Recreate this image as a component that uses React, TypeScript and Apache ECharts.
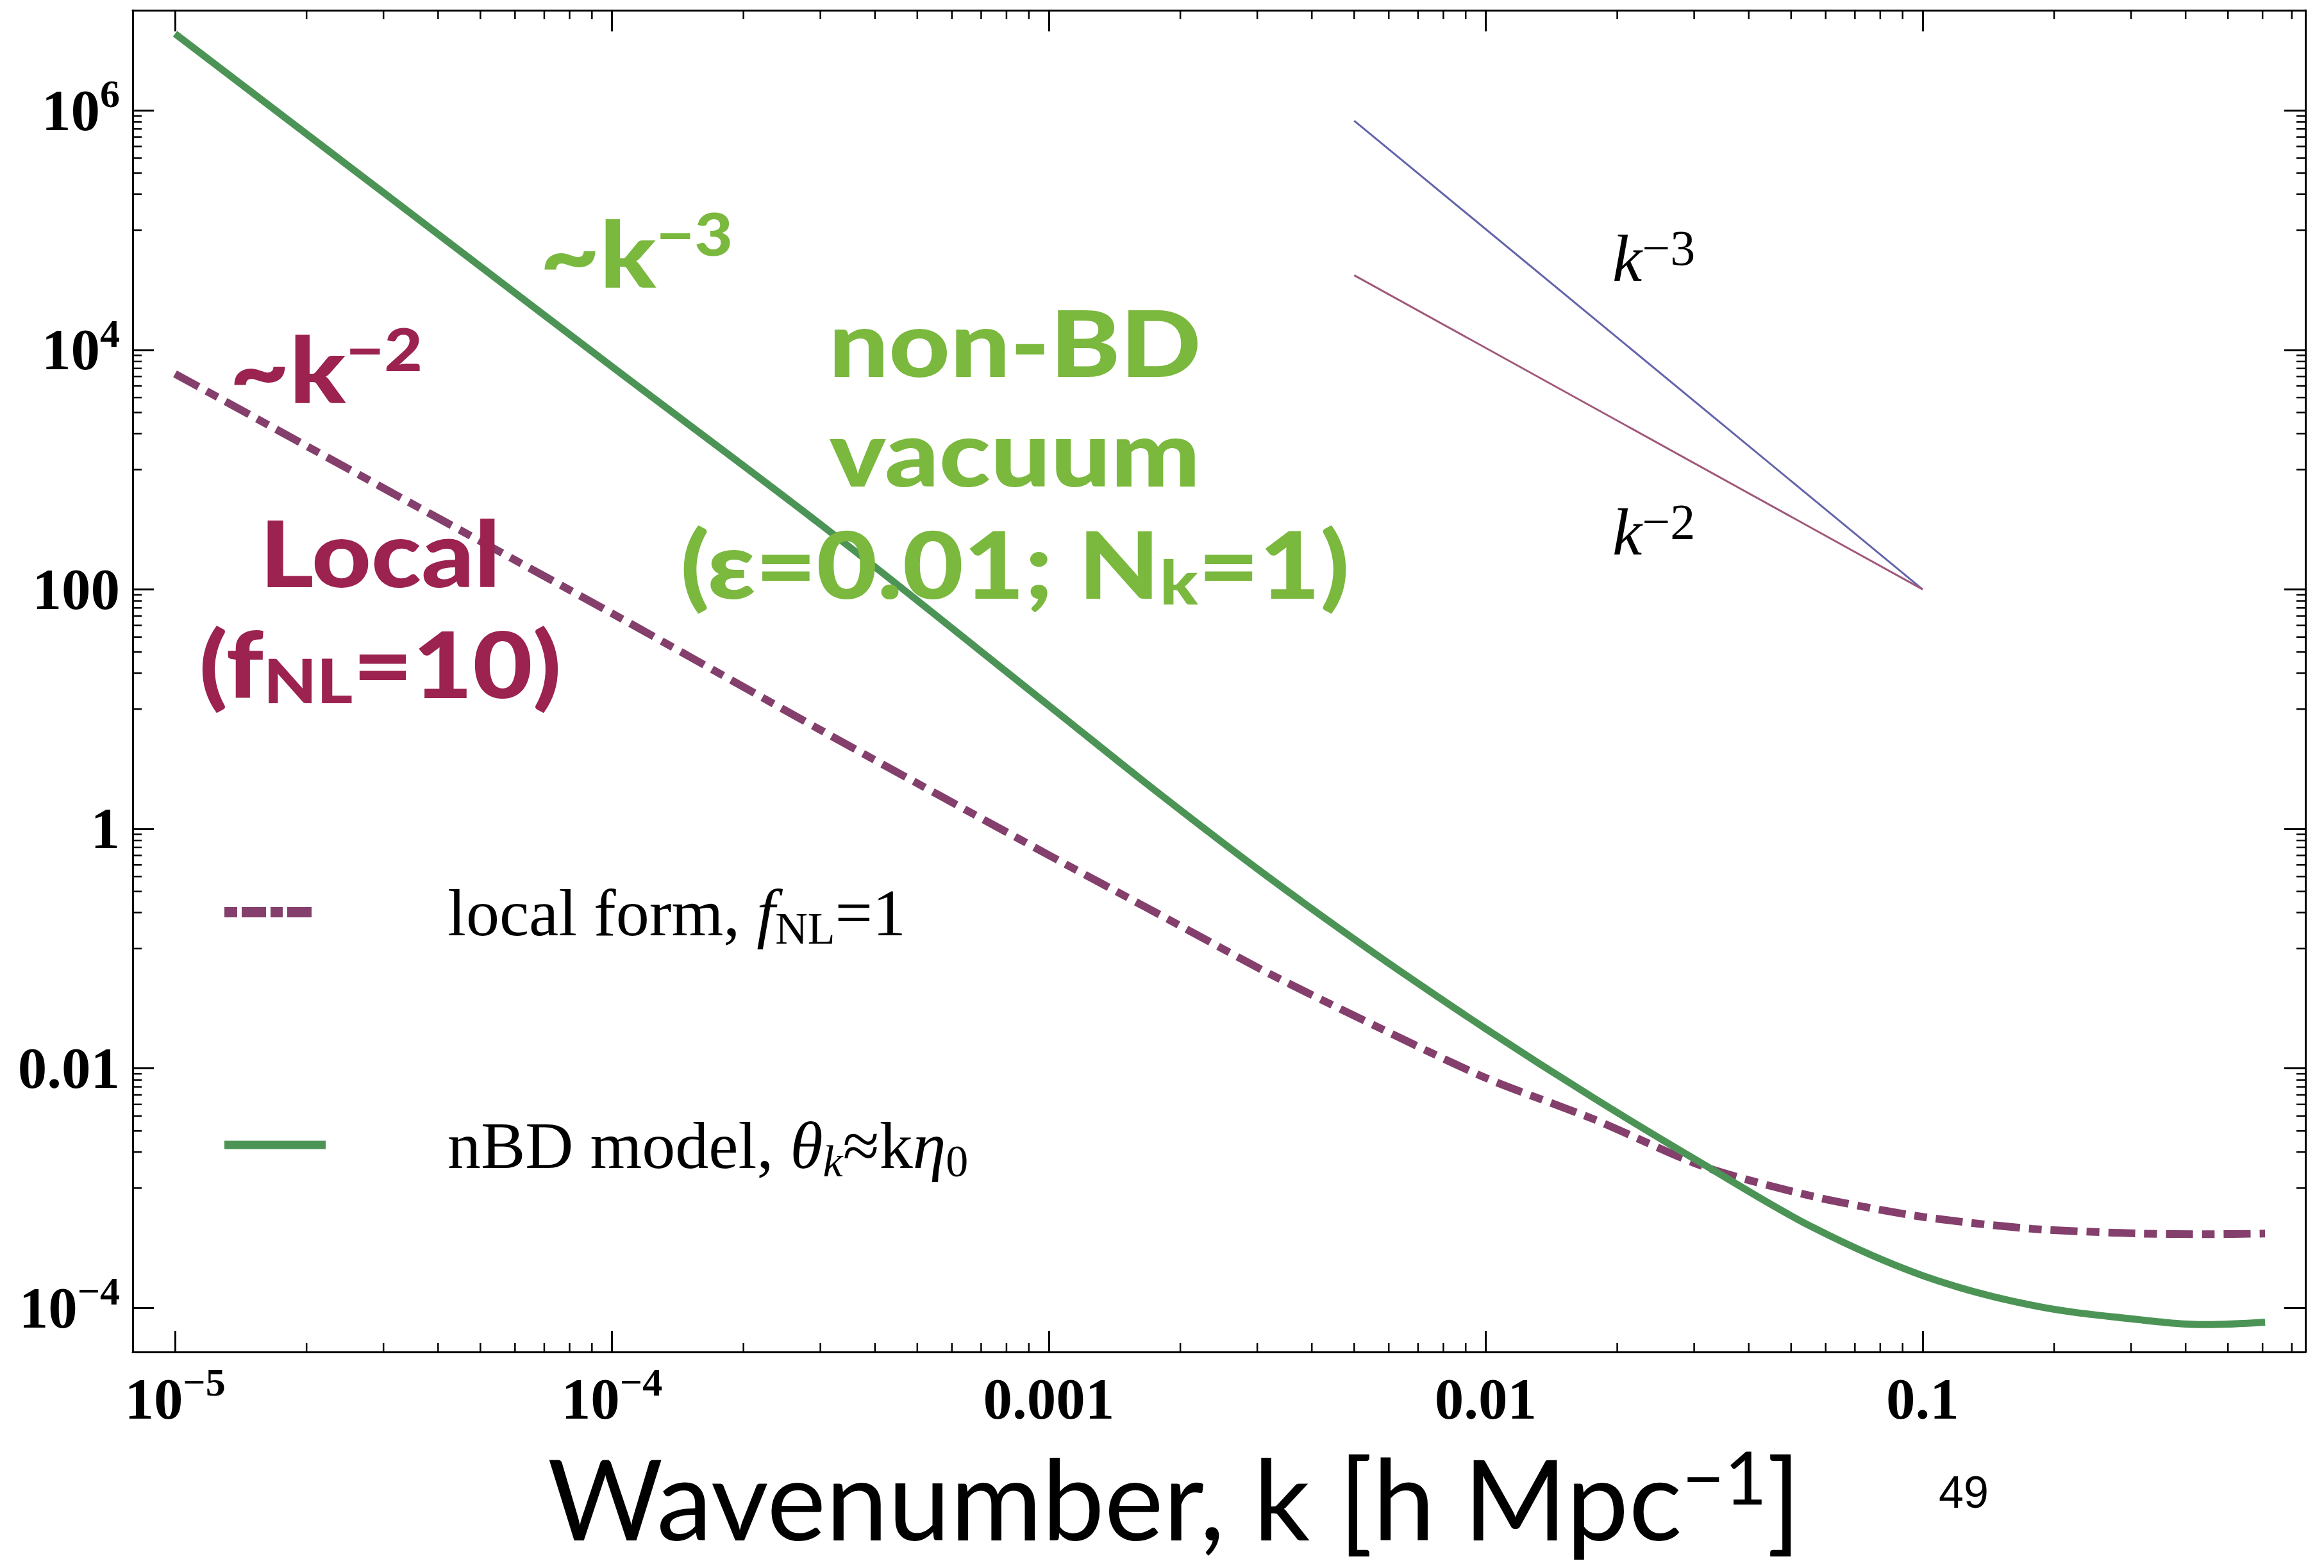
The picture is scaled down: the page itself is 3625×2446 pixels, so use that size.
import React, { useEffect, useRef } from "react";
import * as echarts from "echarts";

// ---------- data ----------
const kValues = [1e-5, 3.16e-5, 1e-4, 3.16e-4, 1e-3, 1.78e-3, 3.16e-3, 5.62e-3, 0.01, 0.0178, 0.0316, 0.0562, 0.1, 0.178, 0.316, 0.447, 0.608];
const localValues = [6310, 631, 63.1, 6.03, 0.603, 0.195, 0.0631, 0.0224, 0.00832, 0.00372, 0.00151, 8.51e-4, 5.75e-4, 4.57e-4, 4.17e-4, 4.12e-4, 4.17e-4];
const nbdValues = [4.37e6, 1.78e5, 7244, 302, 10.7, 2.0, 0.403, 0.0891, 0.0214, 0.00556, 0.00157, 4.68e-4, 1.86e-4, 1.05e-4, 7.94e-5, 7.24e-5, 7.59e-5];
const k3RefK = [0.005, 0.1];
const k3RefY = [8.2e5, 100];
const k2RefK = [0.005, 0.1];
const k2RefY = [4.2e4, 100];

// axis ranges
const xMin = 8.0e-6;
const xMax = 0.752;
const yMin = 4.28e-5;
const yMax = 6.86e6;

// tick labels: exponent, base text, superscript text
const xTickExps = [-5, -4, -3, -2, -1];
const xTickBase = ["10", "10", "0.001", "0.01", "0.1"];
const xTickSup = ["−5", "−4", "", "", ""];
const yTickExps = [-4, -2, 0, 2, 4, 6];
const yTickBase = ["10", "0.01", "1", "100", "10", "10"];
const yTickSup = ["−4", "", "", "", "4", "6"];

// minor ticks
const minorMantissas = [2, 3, 4, 5, 6, 7, 8, 9];
const xMinorDecades = [1e-5, 1e-4, 1e-3, 1e-2, 1e-1];
const yMinorMantissas = [1, 2, 3, 4, 5, 6, 7, 8, 9];
const yMinorDecades = [1e5, 1e3, 10, 0.1, 1e-3];

const LOCAL = "local form, fNL=1";
const NBD = "nBD model, θk≈kη0";

const crimson = "#9C2250";
const lime = "#7AB83E";
const dashColor = "#843F6C";
const greenLine = "#4C9456";

function tickFormatter(exps: number[], base: string[], sup: string[]) {
  return (v: number) => {
    const e = Math.log10(v);
    const i = exps.findIndex((x) => Math.abs(x - e) < 1e-6);
    if (i < 0) return "";
    return sup[i] ? `{b|${base[i]}}{p|${sup[i]}}` : `{b|${base[i]}}`;
  };
}

const tickRich = {
  b: { fontFamily: "Liberation Serif", fontWeight: "bold", fontSize: 91, lineHeight: 114, color: "#000" },
  p: { fontFamily: "Liberation Serif", fontWeight: "bold", fontSize: 62, lineHeight: 62, verticalAlign: "top", color: "#000" },
};

const bigFont = { fontFamily: "Lato", fontWeight: 900 };

export default function App() {
  const ref = useRef<HTMLDivElement>(null);
  useEffect(() => {
    if (!ref.current) return;
    const chart = echarts.init(ref.current, null, { renderer: "svg", width: 3625, height: 2446 });

    const xMinor: number[] = [];
    xMinorDecades.forEach((d) => minorMantissas.forEach((m) => { const v = d * m; if (v < xMax) xMinor.push(v); }));
    const yMinor: number[] = [];
    yMinorDecades.forEach((d) => yMinorMantissas.forEach((m) => yMinor.push(d * m)));

    const axisLine = { show: true, onZero: false, lineStyle: { color: "#000", width: 3 } };
    const axisTick = { show: true, inside: true, length: 33, lineStyle: { color: "#000", width: 3 } };

    const annot = (x: number, y: number, text: string, color: string, align: string, rich: any, sx: number) => ({
      type: "text", x, y, z: 10, scaleX: sx,
      style: {
        text, fill: color, ...bigFont, fontSize: 144,
        align, verticalAlign: "middle", textAlign: align, textVerticalAlign: "middle",
        rich,
      },
    });
    const bigRich = (color: string, small: "top" | "bottom") => ({
      m: { ...bigFont, fontSize: 144, lineHeight: 150, fill: color, color },
      s: { ...bigFont, fontSize: small === "top" ? 92 : 96, lineHeight: small === "top" ? 92 : 96, verticalAlign: small, fill: color, color },
    });
    const kRich = {
      m: { fontFamily: "Liberation Serif", fontStyle: "italic", fontSize: 104, lineHeight: 110, fill: "#000", color: "#000" },
      p: { fontFamily: "Liberation Serif", fontSize: 78, lineHeight: 78, verticalAlign: "top", fill: "#000", color: "#000" },
    };

    const legendRich = {
      r: { fontFamily: "Liberation Serif", fontSize: 104, lineHeight: 120, color: "#000" },
      i: { fontFamily: "Liberation Serif", fontStyle: "italic", fontSize: 104, lineHeight: 120, color: "#000" },
      s: { fontFamily: "Liberation Serif", fontSize: 70, lineHeight: 70, verticalAlign: "bottom", color: "#000" },
      si: { fontFamily: "Liberation Serif", fontStyle: "italic", fontSize: 70, lineHeight: 70, verticalAlign: "bottom", color: "#000" },
    };

    const option: any = {
      animation: false,
      backgroundColor: "#fff",
      grid: { left: 207, right: 29, top: 16, bottom: 337, containLabel: false },
      xAxis: [
        {
          type: "log", min: xMin, max: xMax, position: "bottom", splitNumber: 5,
          axisLine, axisTick, splitLine: { show: false }, minorTick: { show: false },
          axisLabel: { show: true, margin: 16, formatter: tickFormatter(xTickExps, xTickBase, xTickSup), rich: tickRich, showMinLabel: false, showMaxLabel: false, color: "#000" },
          name: "{t|Wavenumber, k [h Mpc}{p|−1}{t|]}",
          nameLocation: "middle", nameGap: 136,
          nameTextStyle: {
            padding: [0, 140, 0, 0],
            rich: {
              t: { fontFamily: "Lato", fontSize: 174, lineHeight: 180, color: "#000" },
              p: { fontFamily: "Lato", fontSize: 114, lineHeight: 114, verticalAlign: "top", color: "#000" },
            },
          },
        },
        {
          type: "log", min: xMin, max: xMax, position: "top", splitNumber: 5,
          axisLine, axisTick, splitLine: { show: false }, axisLabel: { show: false },
        },
      ],
      yAxis: [
        {
          type: "log", logBase: 100, min: yMin, max: yMax, position: "left",
          axisLine, axisTick, splitLine: { show: false }, minorTick: { show: false },
          axisLabel: { show: true, margin: 20, formatter: tickFormatter(yTickExps, yTickBase, yTickSup), rich: tickRich, showMinLabel: false, showMaxLabel: false, color: "#000" },
        },
        {
          type: "log", logBase: 100, min: yMin, max: yMax, position: "right",
          axisLine, axisTick, splitLine: { show: false }, axisLabel: { show: false },
        },
      ],
      legend: [
        {
          data: [LOCAL], left: 350, top: 1371, padding: 0, selectedMode: false,
          itemWidth: 136, itemHeight: 16,
          icon: "path://M0 0H20V16H0Z M27 0H65V16H27Z M72 0H91V16H72Z M98 0H136V16H98Z",
          formatter: () => "{r|local form, }{i|f}{s|NL}{r|=1}",
          textStyle: { padding: [0, 0, 0, 207], rich: legendRich },
        },
        {
          data: [NBD], left: 350, top: 1734, padding: 0, selectedMode: false,
          itemWidth: 158, itemHeight: 13, icon: "rect",
          formatter: () => "{r|nBD model, }{i|θ}{si|k}{r|≈k}{i|η}{s|0}",
          textStyle: { padding: [0, 0, 0, 185], rich: legendRich },
        },
      ],
      series: [
        {
          type: "custom", name: "xMinorTicks", xAxisIndex: 0, yAxisIndex: 0, silent: true, z: 1,
          data: xMinor.map((v) => [v, 1]), encode: { x: 0, y: 1 },
          renderItem: (params: any, api: any) => {
            const x = api.coord([api.value(0), 1])[0];
            const cs = params.coordSys;
            const yb = cs.y + cs.height;
            return {
              type: "group",
              children: [
                { type: "line", shape: { x1: x, y1: yb, x2: x, y2: yb - 14 }, style: { stroke: "#000", lineWidth: 2.5 } },
                { type: "line", shape: { x1: x, y1: cs.y, x2: x, y2: cs.y + 14 }, style: { stroke: "#000", lineWidth: 2.5 } },
              ],
            };
          },
        },
        {
          type: "custom", name: "yMinorTicks", xAxisIndex: 0, yAxisIndex: 0, silent: true, z: 1,
          data: yMinor.map((v) => [1e-3, v]), encode: { x: 0, y: 1 },
          renderItem: (params: any, api: any) => {
            const y = api.coord([1e-3, api.value(1)])[1];
            const cs = params.coordSys;
            const xr = cs.x + cs.width;
            return {
              type: "group",
              children: [
                { type: "line", shape: { x1: cs.x, y1: y, x2: cs.x + 14, y2: y }, style: { stroke: "#000", lineWidth: 2.5 } },
                { type: "line", shape: { x1: xr, y1: y, x2: xr - 14, y2: y }, style: { stroke: "#000", lineWidth: 2.5 } },
              ],
            };
          },
        },
        {
          name: "k^-3", type: "line", showSymbol: false, symbol: "none", z: 2,
          data: k3RefK.map((k, i) => [k, k3RefY[i]]),
          lineStyle: { color: "#6364AA", width: 3 }, itemStyle: { color: "#6364AA" },
        },
        {
          name: "k^-2", type: "line", showSymbol: false, symbol: "none", z: 2,
          data: k2RefK.map((k, i) => [k, k2RefY[i]]),
          lineStyle: { color: "#A0587A", width: 3 }, itemStyle: { color: "#A0587A" },
        },
        {
          name: LOCAL, type: "line", showSymbol: false, symbol: "none", smooth: 0.25, z: 3,
          data: kValues.map((k, i) => [k, localValues[i]]),
          lineStyle: { color: dashColor, width: 12, type: [42, 14, 20, 14] }, itemStyle: { color: dashColor },
        },
        {
          name: NBD, type: "line", showSymbol: false, symbol: "none", smooth: 0.35, z: 4,
          data: kValues.map((k, i) => [k, nbdValues[i]]),
          lineStyle: { color: greenLine, width: 11 }, itemStyle: { color: greenLine },
        },
      ],
      graphic: [
        annot(358, 573, "{m|~k}{s|−2}", crimson, "left", bigRich(crimson, "top"), 1.12),
        annot(593, 860, "Local", crimson, "center", undefined, 1.12),
        annot(593, 1033, "{m|(f}{s|NL}{m|=10)}", crimson, "center", bigRich(crimson, "bottom"), 1.12),
        annot(842, 393, "{m|~k}{s|−3}", lime, "left", bigRich(lime, "top"), 1.12),
        annot(1583, 532, "non-BD", lime, "center", undefined, 1.15),
        annot(1583, 703, "vacuum", lime, "center", undefined, 1.15),
        annot(1583, 879, "{m|(ε=0.01; N}{s|k}{m|=1)}", lime, "center", bigRich(lime, "bottom"), 1.14),
        {
          type: "text", x: 2515, y: 402, z: 10,
          style: { text: "{m|k}{p|−3}", fill: "#000", align: "left", verticalAlign: "middle", textAlign: "left", textVerticalAlign: "middle", rich: kRich },
        },
        {
          type: "text", x: 2515, y: 829, z: 10,
          style: { text: "{m|k}{p|−2}", fill: "#000", align: "left", verticalAlign: "middle", textAlign: "left", textVerticalAlign: "middle", rich: kRich },
        },
        {
          type: "text", x: 3063, y: 2328, z: 10,
          style: { text: "49", fill: "#000", fontFamily: "Liberation Sans", fontSize: 70, align: "center", verticalAlign: "middle", textAlign: "center", textVerticalAlign: "middle" },
        },
      ],
    };
    chart.setOption(option);
    return () => chart.dispose();
  }, []);
  return <div ref={ref} style={{ position: "fixed", left: 0, top: 0, width: 3625, height: 2446, background: "#fff" }} />;
}
